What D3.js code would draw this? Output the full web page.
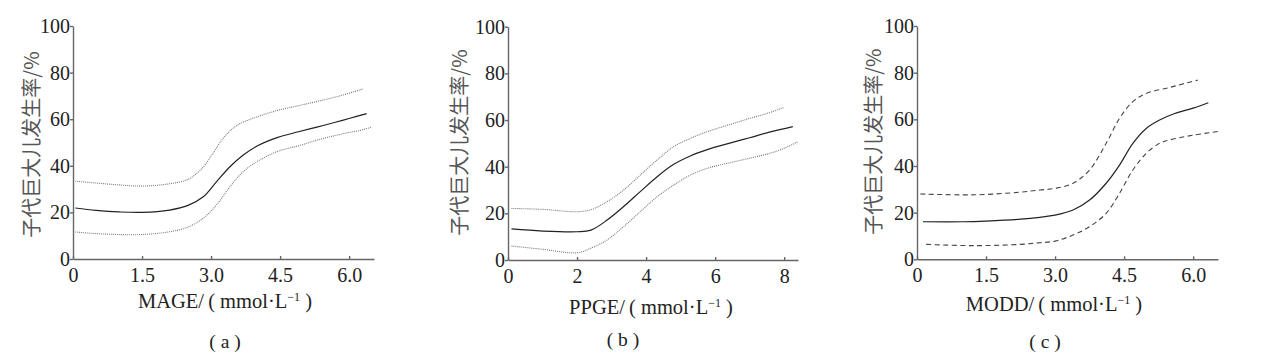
<!DOCTYPE html>
<html>
<head>
<meta charset="utf-8">
<script src="https://cdn.jsdelivr.net/npm/d3@7"></script>
<style>
	body { margin: 0; background: #fff; }
	.axis path, .axis line { stroke: #666; stroke-width: 1.4; }
	.ytitle { font-family: "Noto Sans CJK SC", sans-serif; font-size: 20px; fill: #555; }
	.xtitle { font-family: "Liberation Serif", serif; font-size: 20.5px; fill: #222; }
	.plabel { font-family: "Liberation Serif", serif; font-size: 19.5px; fill: #222; }
</style>
</head>
<body>
<div id="chart"></div>
<script>

// tick labels
var yTicks = [0, 20, 40, 60, 80, 100];
var xTicksA = [0, 1.5, 3.0, 4.5, 6.0];
var xTicksB = [0, 2, 4, 6, 8];
var xTicksC = [0, 1.5, 3.0, 4.5, 6.0];

// (a) MAGE: [x, rate]
var aMid = [[0.05,21.9],[0.5,20.9],[1.0,20.2],[1.5,20.0],[2.1,21.0],[2.5,23.0],[2.83,26.7],[3.12,33.2],[3.41,39.6],[3.7,44.6],[4.0,48.5],[4.45,52.2],[4.9,54.6],[5.3,56.6],[5.7,58.7],[6.0,60.3],[6.38,62.4]];
var aUpper = [[0.05,33.4],[0.5,32.6],[1.0,31.8],[1.5,31.3],[2.1,32.3],[2.5,34.2],[2.8,38.8],[3.05,45.6],[3.27,52.0],[3.56,57.3],[4.0,61],[4.45,63.8],[4.9,65.8],[5.3,67.6],[5.8,70],[6.3,73]];
var aLower = [[0.05,11.6],[0.5,10.9],[1.0,10.5],[1.5,10.5],[2.1,11.7],[2.5,13.7],[2.83,17.5],[3.12,23.2],[3.41,31],[3.7,37.5],[4.0,41.8],[4.45,46.2],[4.9,48.6],[5.3,51],[5.7,53],[6.0,54.3],[6.2,55],[6.47,56.5]];

// (b) PPGE
var bMid = [[0.1,13.3],[1.0,12.4],[2.0,12.1],[2.4,12.8],[2.87,17.1],[3.35,22.9],[3.83,29.3],[4.32,35.7],[4.8,41],[5.28,44.6],[5.77,47.3],[6.4,50.0],[7.0,52.4],[7.6,54.9],[8.25,57.2]];
var bUpper = [[0.1,22.1],[1.0,21.7],[2.0,20.7],[2.39,21.5],[2.87,25],[3.35,30],[3.83,36.4],[4.32,42.9],[4.8,48.6],[5.28,52.1],[5.77,55],[6.39,57.9],[7.0,60.7],[7.5,62.8],[8.0,65.4]];
var bLower = [[0.1,6],[1.0,4.6],[2.0,3.1],[2.39,5],[2.87,8.6],[3.35,14.3],[3.83,20.7],[4.32,27.1],[4.8,32.1],[5.28,36.4],[5.77,39.3],[6.39,41.6],[7.0,43.6],[7.6,45.8],[8.0,47.9],[8.4,50.7]];

// (c) MODD
var cMid = [[0.13,16.1],[1.0,16.1],[1.5,16.4],[2.25,17.2],[2.67,18],[3.0,18.9],[3.39,21.1],[3.75,25.4],[4.11,32.6],[4.4,40.4],[4.69,49.7],[4.98,56.1],[5.27,59.7],[5.6,62.5],[6.0,64.8],[6.33,67.1]];
var cUpper = [[0.07,28],[1.0,27.6],[1.5,27.8],[2.25,28.8],[2.67,29.7],[3.0,30.4],[3.39,32.6],[3.75,38.3],[4.11,49.7],[4.4,60.4],[4.69,67.6],[4.98,71.1],[5.48,73.6],[5.8,75.3],[6.1,76.8]];
var cLower = [[0.2,6.4],[1.0,5.9],[1.5,5.9],[2.25,6.4],[2.67,7.1],[3.0,7.8],[3.39,10.4],[3.75,14],[4.11,19.7],[4.4,28.3],[4.69,38.3],[4.98,45.4],[5.27,49.7],[5.48,51.1],[6.0,53.2],[6.55,54.8]];

var yTitle = "子代巨大儿发生率/%";

var panels = [
	{ name: "MAGE", label: "a", xMax: 6.54, ticks: xTicksA, fmt: d3.format(".1f"), mid: aMid, upper: aUpper, lower: aLower, band: "dot",
	  left: 73, right: 374, top: 26, bottom: 259, yt: [30, 144.5], xt: [225, 308], pl: [225, 348] },
	{ name: "PPGE", label: "b", xMax: 8.4, ticks: xTicksB, fmt: d3.format("d"), mid: bMid, upper: bUpper, lower: bLower, band: "dot",
	  left: 508, right: 798, top: 26.7, bottom: 260, yt: [458, 142.5], xt: [651, 314], pl: [623, 346] },
	{ name: "MODD", label: "c", xMax: 6.54, ticks: xTicksC, fmt: d3.format(".1f"), mid: cMid, upper: cUpper, lower: cLower, band: "dash",
	  left: 917, right: 1218, top: 26, bottom: 259.3, yt: [872, 141.7], xt: [1054, 311], pl: [1045, 348] }
];

var svg = d3.select("#chart").append("svg")
	.attr("width", 1270)
	.attr("height", 354);

var styleTicks = function(sel) {
	sel.attr("font-family", "Liberation Serif");
	sel.selectAll("text")
		.style("font-family", "'Liberation Serif', serif")
		.style("font-size", "20px")
		.style("fill", "#222");
};

var drawPanel = function(p) {

	var x = d3.scaleLinear().domain([0, p.xMax]).range([p.left, p.right]);
	var y = d3.scaleLinear().domain([0, 100]).range([p.bottom, p.top]);

	var g = svg.append("g");

	// x axis, ticks point inward
	var xAxis = d3.axisBottom(x)
		.tickValues(p.ticks)
		.tickFormat(function(d) { return d === 0 ? "0" : p.fmt(d); })
		.tickSizeInner(-3)
		.tickSizeOuter(0)
		.tickPadding(9);

	g.append("g")
		.attr("class", "axis")
		.attr("transform", "translate(0," + p.bottom + ")")
		.call(xAxis)
		.call(styleTicks);

	// y axis
	var yAxis = d3.axisLeft(y)
		.tickValues(yTicks)
		.tickSizeInner(3)
		.tickSizeOuter(0)
		.tickPadding(0);

	g.append("g")
		.attr("class", "axis")
		.attr("transform", "translate(" + p.left + ",0)")
		.call(yAxis)
		.call(styleTicks);

	var line = d3.line()
		.x(function(d) { return x(d[0]); })
		.y(function(d) { return y(d[1]); })
		.curve(d3.curveCatmullRom.alpha(0.5));

	var bandStyle = p.band === "dot"
		? { stroke: "#7a7a7a", width: 1.1, dash: "1,1" }
		: { stroke: "#444", width: 1.1, dash: "5,3.5" };

	[p.upper, p.lower].forEach(function(s) {
		g.append("path")
			.datum(s)
			.attr("fill", "none")
			.attr("stroke", bandStyle.stroke)
			.attr("stroke-width", bandStyle.width)
			.attr("stroke-dasharray", bandStyle.dash)
			.attr("d", line);
	});

	g.append("path")
		.datum(p.mid)
		.attr("fill", "none")
		.attr("stroke", "#222")
		.attr("stroke-width", 1.2)
		.attr("d", line);

	// y title
	g.append("text")
		.attr("class", "ytitle")
		.attr("text-anchor", "middle")
		.attr("dominant-baseline", "central")
		.attr("transform", "translate(" + p.yt[0] + "," + p.yt[1] + ")rotate(-90)")
		.text(yTitle);

	// x title with superscript
	var xt = g.append("text")
		.attr("class", "xtitle")
		.attr("text-anchor", "middle")
		.attr("x", p.xt[0])
		.attr("y", p.xt[1]);
	xt.append("tspan").text(p.name + "/\u2009(\u00a0mmol·L");
	xt.append("tspan").attr("dy", -7).style("font-size", "12px").text("−1");
	xt.append("tspan").attr("dy", 7).text("\u00a0)");

	// panel label
	g.append("text")
		.attr("class", "plabel")
		.attr("text-anchor", "middle")
		.attr("x", p.pl[0])
		.attr("y", p.pl[1])
		.text("(\u00a0" + p.label + "\u00a0)");

};

panels.forEach(drawPanel);

</script>
</body>
</html>
